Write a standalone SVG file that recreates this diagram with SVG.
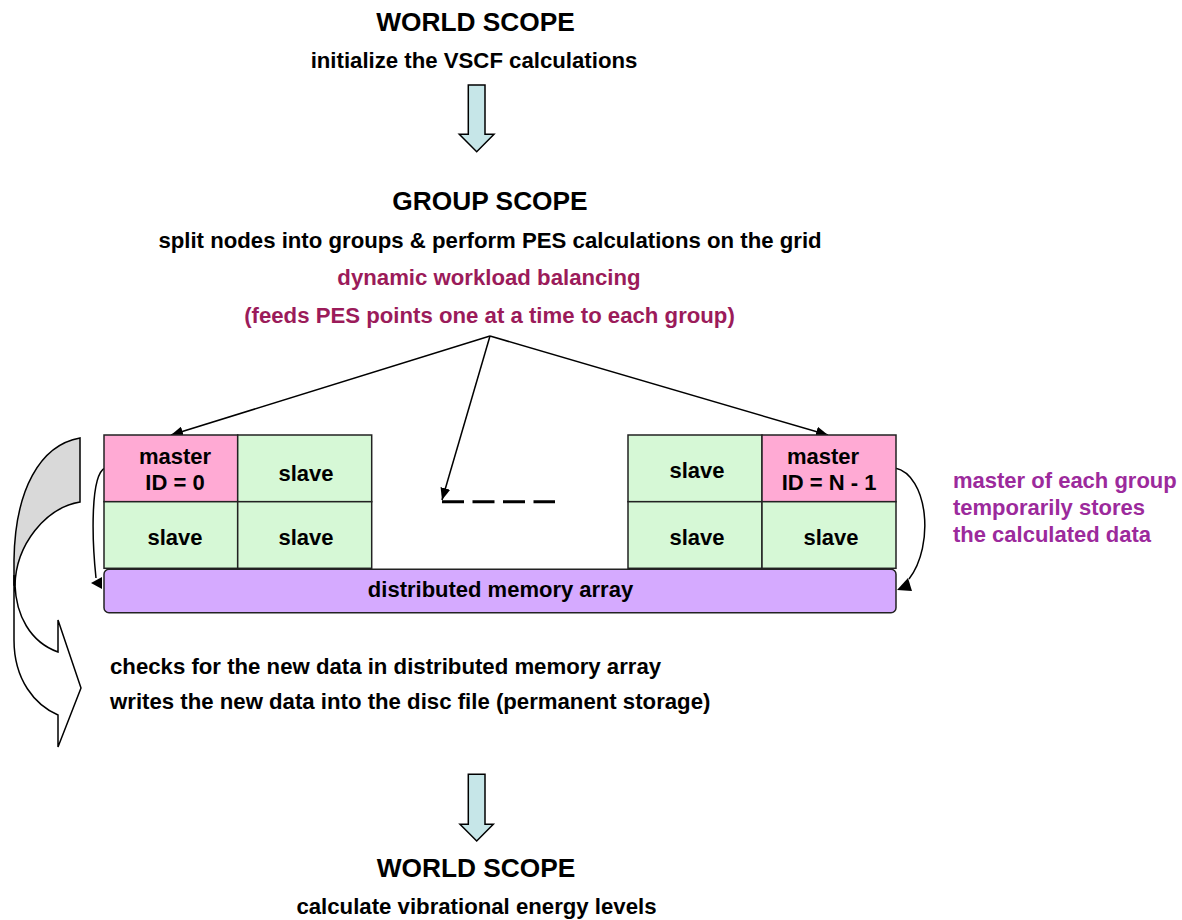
<svg xmlns="http://www.w3.org/2000/svg" width="1182" height="920" viewBox="0 0 1182 920">
<defs>
<style>
text{font-family:"Liberation Sans",Arial,sans-serif;font-weight:bold;}
.t{font-size:26.3px;fill:#000;text-anchor:middle;}
.s{font-size:22.2px;fill:#000;text-anchor:middle;}
.m{font-size:22.2px;fill:#9b1b5a;text-anchor:middle;}
.p{font-size:22px;fill:#9c2a9c;}
.b{font-size:22px;fill:#000;text-anchor:middle;}
.l{font-size:22.2px;fill:#000;}
.blk{fill:#c6e6e8;stroke:#000;stroke-width:1.5;}
.master{fill:#ffaad4;stroke:#222;stroke-width:1.5;}
.slave{fill:#d6f8d6;stroke:#222;stroke-width:1.5;}
.conn{fill:none;stroke:#000;stroke-width:1.5;}
</style>
<marker id="ah" viewBox="0 0 12 10" refX="12" refY="5" markerWidth="12" markerHeight="10" markerUnits="userSpaceOnUse" orient="auto">
<path d="M0,0 L12,5 L0,10 Z" fill="#000"/>
</marker>
</defs>
<rect width="1182" height="920" fill="#fff"/>

<g id="world-top">
<text class="t" x="475.5" y="31">WORLD SCOPE</text>
<text class="s" x="474" y="68">initialize the VSCF calculations</text>
</g>
<g id="arrow-top">
<path class="blk" d="M468.3,85 L485,85 L485,134.3 L494,134.3 L476.7,151.7 L459.3,134.3 L468.3,134.3 Z"/>
</g>

<g id="group-scope">
<text class="t" x="490" y="210">GROUP SCOPE</text>
<text class="s" x="490" y="248">split nodes into groups &amp; perform PES calculations on the grid</text>
<text class="m" x="489" y="285">dynamic workload balancing</text>
<text class="m" x="489.5" y="323">(feeds PES points one at a time to each group)</text>
</g>

<g id="curved-arrow">
<path d="M80,438 C40,445 15,490 14,560 L14,585 L15,585 C16,545 45,508 80,502 Z" fill="#d9d9d9" stroke="#000" stroke-width="1.5"/>
<path d="M14,575 L14,640 C14,680 35,705 58,715 L58,747 L81,688 L58,620 L58,652 C30,642 16,615 15,585 Z" fill="#fff" stroke="#000" stroke-width="1.5"/>
</g>

<g id="connectors">
<line class="conn" x1="490" y1="336" x2="171" y2="435" marker-end="url(#ah)"/>
<line class="conn" x1="490" y1="336" x2="828" y2="435" marker-end="url(#ah)"/>
<line class="conn" x1="490" y1="336" x2="442" y2="500" marker-end="url(#ah)"/>
<path class="conn" d="M105,468 C90,475 92,540 96,578"/>
<polygon points="91,583 102,577 102,589" fill="#000"/>
<path class="conn" d="M895,468 C928,475 935,545 909,579"/>
<polygon points="897,590 912,591 908,578" fill="#000"/>
<line x1="442" y1="501.7" x2="555" y2="501.7" stroke="#000" stroke-width="3" stroke-dasharray="22 8.5"/>
</g>

<g id="group-0">
<rect class="master" x="104" y="435" width="133.7" height="66.7"/>
<rect class="slave" x="237.7" y="435" width="134" height="66.7"/>
<rect class="slave" x="104" y="501.7" width="133.7" height="66.6"/>
<rect class="slave" x="237.7" y="501.7" width="134" height="66.6"/>
<text class="b" x="175" y="464">master</text>
<text class="b" x="175" y="490">ID = 0</text>
<text class="b" x="306" y="481">slave</text>
<text class="b" x="175" y="545">slave</text>
<text class="b" x="306" y="545">slave</text>
</g>

<g id="group-n">
<rect class="slave" x="628" y="435" width="134" height="66.7"/>
<rect class="master" x="762" y="435" width="134" height="66.7"/>
<rect class="slave" x="628" y="501.7" width="134" height="66.6"/>
<rect class="slave" x="762" y="501.7" width="134" height="66.6"/>
<text class="b" x="697" y="478">slave</text>
<text class="b" x="823" y="464">master</text>
<text class="b" x="829" y="490">ID = N - 1</text>
<text class="b" x="697" y="545">slave</text>
<text class="b" x="831" y="545">slave</text>
</g>

<g id="memory-array">
<rect x="104" y="569.3" width="792" height="43.4" rx="5" ry="5" fill="#d5aaff" stroke="#222" stroke-width="1.5"/>
<text class="b" x="500.5" y="597">distributed memory array</text>
</g>

<g id="master-note">
<text class="p" x="953" y="488">master of each group</text>
<text class="p" x="953" y="515">temporarily stores</text>
<text class="p" x="953" y="542">the calculated data</text>
</g>

<g id="checks-note">
<text class="l" x="110" y="674">checks for the new data in distributed memory array</text>
<text class="l" x="110" y="709">writes the new data into the disc file (permanent storage)</text>
</g>

<g id="arrow-bottom">
<path class="blk" d="M468.3,774.3 L485,774.3 L485,824.3 L493.3,824.3 L476.7,841 L460,824.3 L468.3,824.3 Z"/>
</g>

<g id="world-bottom">
<text class="t" x="476" y="877">WORLD SCOPE</text>
<text class="s" x="476.5" y="914">calculate vibrational energy levels</text>
</g>
</svg>
